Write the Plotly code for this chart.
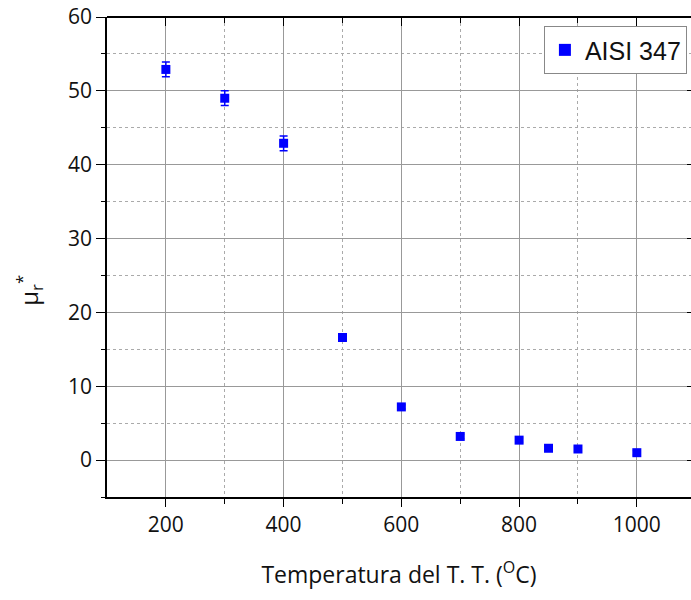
import plotly.graph_objects as go

# Heat-treatment temperature (°C) and relative permeability mu_r*
temperatures = [200, 300, 400, 500, 600, 700, 800, 850, 900, 1000]
mu_r = [52.9, 49.0, 42.9, 16.6, 7.2, 3.2, 2.7, 1.6, 1.5, 1.0]
mu_err = [1.0, 1.0, 1.0, 0.3, 0.3, 0.3, 0.3, 0.3, 0.3, 0.3]
series_name = "AISI 347"

blue = "#0000FF"
tick_font = dict(family="Open Sans", size=21, color="#111")

fig = go.Figure()
fig.add_trace(go.Scatter(
    x=temperatures, y=mu_r, mode="markers", name=series_name,
    marker=dict(symbol="square", size=9, color=blue),
    error_y=dict(type="data", array=mu_err, color=blue, thickness=1.5, width=4),
))
# carrier trace for the mirrored top/right axes
fig.add_trace(go.Scatter(
    x=temperatures, y=mu_r, xaxis="x2", yaxis="y2", mode="markers",
    marker=dict(opacity=0), showlegend=False, hoverinfo="skip",
))

fig.update_layout(
    width=691, height=600,
    margin=dict(l=107, r=0, t=17, b=103),
    paper_bgcolor="white", plot_bgcolor="white",
    showlegend=True,
    legend=dict(
        x=0.993, y=0.981, xanchor="right", yanchor="top",
        bordercolor="#888", borderwidth=1, bgcolor="white",
        font=dict(family="Liberation Sans", size=25, color="#111"),
        itemsizing="constant",
    ),
    xaxis=dict(
        range=[100, 1092], tickvals=[200, 400, 600, 800, 1000],
        showline=True, linecolor="black", linewidth=1.5,
        ticks="outside", ticklen=8, tickwidth=1.2, tickcolor="black",
        showgrid=True, gridcolor="#999", gridwidth=1,
        minor=dict(tickvals=[300, 500, 700, 900], ticks="outside", ticklen=5,
                   tickcolor="black", showgrid=True, gridcolor="#aaa", griddash="dot"),
        tickfont=tick_font, zeroline=False,
        title=dict(text="Temperatura del T. T. (<sup>O</sup>C)",
                   font=dict(family="Open Sans", size=23, color="#111"), standoff=30),
    ),
    yaxis=dict(
        range=[-5, 60], tickvals=[0, 10, 20, 30, 40, 50, 60],
        showline=True, linecolor="black", linewidth=1.5,
        ticks="outside", ticklen=9, tickwidth=1.2, tickcolor="black",
        showgrid=True, gridcolor="#999", gridwidth=1,
        minor=dict(tickvals=[-5, 5, 15, 25, 35, 45, 55], ticks="outside", ticklen=4,
                   tickcolor="black", showgrid=True, gridcolor="#aaa", griddash="dot"),
        tickfont=tick_font, zeroline=False,
    ),
    # top frame with inward ticks
    xaxis2=dict(
        overlaying="x", side="top", range=[100, 1092], anchor="free", position=1,
        showline=True, linecolor="black", linewidth=1.5,
        ticks="inside", ticklen=8, tickwidth=1.2, tickcolor="black",
        tickvals=[200, 400, 600, 800, 1000], showticklabels=False, showgrid=False,
        minor=dict(tickvals=[300, 500, 700, 900], ticks="inside", ticklen=5, tickcolor="black"),
        zeroline=False,
    ),
    # right-hand inward ticks
    yaxis2=dict(
        overlaying="y", side="right", range=[-5, 60], anchor="free", position=1,
        showline=False,
        ticks="inside", ticklen=4, tickwidth=1.2, tickcolor="black",
        tickvals=[0, 10, 20, 30, 40, 50, 60], showticklabels=False, showgrid=False,
        zeroline=False,
    ),
    annotations=[dict(
        text="μ<sub>r</sub><sup>*</sup>", textangle=-90,
        xref="paper", yref="paper", x=-0.135, y=0.43,
        xanchor="center", yanchor="middle", showarrow=False,
        font=dict(family="Open Sans", size=24, color="#111"),
    )],
)

fig.write_html("out.html")
